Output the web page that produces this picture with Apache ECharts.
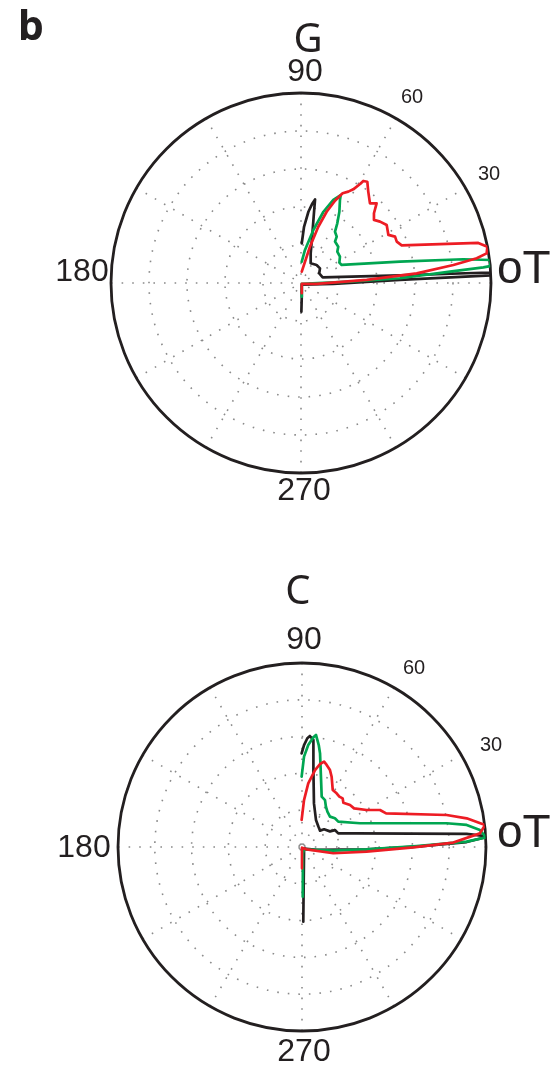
<!DOCTYPE html>
<html>
<head>
<meta charset="utf-8">
<script src="https://cdn.jsdelivr.net/npm/echarts@6/dist/echarts.min.js"></script>
<style>
  html, body { margin: 0; padding: 0; background: #ffffff; }
  #chart { width: 559px; height: 1065px; }
</style>
</head>
<body>
<div id="chart"></div>
<script>
// Trajectories given as (x, y) components, normalised so the outer circle is radius 1.
// Panel G
const gBlack = [
  [0.004,0.209],[0.016,0.296],[0.039,0.375],[0.060,0.419],[0.074,0.440],[0.068,0.367],
  [0.060,0.261],[0.051,0.156],[0.051,0.104],[0.082,0.095],[0.100,0.077],[0.096,0.051],
  [0.114,0.030],[0.521,0.040],[0.951,0.054],[0.998,0.054],[0.998,0.040],[0.521,0.016],
  [0.170,-0.005],[0.004,-0.009],[0.004,-0.072],[0.002,-0.151]
];
const gGreen = [
  [0.004,-0.072],[0.004,-0.005],[0.258,0.007],[0.521,0.025],[0.784,0.060],[0.960,0.082],
  [0.995,0.089],[0.998,0.121],[0.854,0.125],[0.521,0.112],[0.214,0.095],[0.202,0.107],
  [0.205,0.139],[0.191,0.165],[0.196,0.191],[0.179,0.218],[0.188,0.244],[0.179,0.270],
  [0.191,0.314],[0.202,0.375],[0.205,0.437],[0.209,0.463],[0.170,0.437],[0.118,0.375],
  [0.065,0.279],[0.021,0.174],[0.004,0.112]
];
const gRed = [
  [0.004,-0.054],[0.004,-0.005],[0.082,-0.005],[0.346,0.016],[0.609,0.051],[0.802,0.095],
  [0.925,0.130],[0.977,0.156],[0.981,0.191],[0.933,0.211],[0.530,0.198],[0.504,0.218],
  [0.495,0.244],[0.460,0.253],[0.451,0.305],[0.416,0.323],[0.384,0.332],[0.384,0.367],
  [0.398,0.419],[0.363,0.419],[0.354,0.481],[0.349,0.533],[0.328,0.537],[0.311,0.521],
  [0.275,0.493],[0.249,0.481],[0.219,0.472],[0.179,0.433],[0.135,0.375],[0.091,0.296],
  [0.047,0.191],[0.004,0.060]
];
// Panel C
const cBlack = [
  [-0.002,0.509],[0.011,0.554],[0.029,0.591],[0.043,0.603],[0.062,0.582],[0.062,0.418],
  [0.065,0.237],[0.076,0.147],[0.089,0.111],[0.098,0.089],[0.120,0.096],[0.152,0.085],
  [0.179,0.092],[0.197,0.074],[0.297,0.074],[0.306,0.065],[0.895,0.071],[0.986,0.060],
  [0.998,0.053],[0.895,0.027],[0.623,0.002],[0.351,-0.013],[0.080,-0.016],[0.011,-0.009],
  [0.011,-0.034],[0.009,-0.216],[0.007,-0.406]
];
const cGreen = [
  [-0.002,0.382],[0.011,0.491],[0.034,0.554],[0.062,0.596],[0.076,0.609],[0.091,0.554],
  [0.098,0.509],[0.103,0.382],[0.107,0.274],[0.125,0.255],[0.130,0.219],[0.138,0.192],
  [0.152,0.165],[0.179,0.156],[0.197,0.138],[0.315,0.129],[0.786,0.129],[0.895,0.120],
  [0.967,0.092],[1.000,0.053],[0.895,0.029],[0.623,0.005],[0.351,-0.013],[0.170,-0.020],
  [0.011,-0.013],[0.005,-0.034],[0.004,-0.270]
];
const cRed = [
  [-0.002,0.147],[0.011,0.255],[0.034,0.346],[0.071,0.418],[0.098,0.451],[0.120,0.464],
  [0.134,0.446],[0.152,0.418],[0.161,0.382],[0.167,0.310],[0.188,0.292],[0.203,0.274],
  [0.221,0.264],[0.225,0.241],[0.261,0.228],[0.283,0.210],[0.351,0.201],[0.424,0.201],
  [0.457,0.183],[0.786,0.174],[0.895,0.156],[0.995,0.120],[0.967,0.074],[0.822,0.024],
  [0.605,-0.002],[0.351,-0.025],[0.170,-0.034],[0.025,-0.013],[0.000,-0.004],[0.000,-0.116]
];

const panelLetter = 'b';
const panelTitles = ['G', 'C'];
const angleTickLabels = ['90', '60', '30', '180', '270'];
const zeroTickLabel = 'oT';

const COLORS = { black: '#231f20', green: '#00a651', red: '#ed1c24' };

// Convert (x, y) components to [radius, angle in degrees] for the polar system.
function toPolar(points) {
  return points.map(([x, y]) => {
    const r = Math.hypot(x, y);
    let a = Math.atan2(y, x) * 180 / Math.PI;
    if (a < 0) a += 360;
    return [r, a];
  });
}

const panels = [
  { center: [301, 283], radius: 190, traces: [gBlack, gGreen, gRed] },
  { center: [302, 847], radius: 184, traces: [cBlack, cGreen, cRed] }
];

// Sparse dotted rings and spokes
const gridLine = { color: '#8a8a8a', width: 1.6, type: [1.6, 9] };

const series = [];
panels.forEach((p, i) => {
  const colors = [COLORS.black, COLORS.green, COLORS.red];
  p.traces.forEach((t, k) => {
    series.push({
      type: 'line',
      coordinateSystem: 'polar',
      polarIndex: i,
      data: toPolar(t),
      showSymbol: false,
      symbol: 'none',
      smooth: false,
      silent: true,
      animation: false,
      lineStyle: { color: colors[k], width: 2.7, join: 'round', cap: 'round' },
      z: 3 + k
    });
  });
});

// Label placement for each panel
const labelLayout = [
  {
    title: [308, 41],
    ticks: [[305, 72, 32], [412, 97, 20], [489, 174, 20], [82, 272, 32], [304, 491, 32]],
    zero: [497, 270]
  },
  {
    title: [298, 593],
    ticks: [[304, 640, 32], [414, 668, 20], [491, 745, 20], [84, 848, 32], [304, 1052, 32]],
    zero: [497, 834]
  }
];

const graphics = [{
  type: 'text', x: 31, y: 28,
  style: { text: panelLetter, font: 'bold 41px "Noto Sans", sans-serif', fill: '#231f20',
           textAlign: 'center', textVerticalAlign: 'middle' }
}];
labelLayout.forEach((L, i) => {
  graphics.push({
    type: 'text', x: L.title[0], y: L.title[1],
    style: { text: panelTitles[i], font: '40px "Noto Sans", sans-serif', fill: '#231f20',
             textAlign: 'center', textVerticalAlign: 'middle' }
  });
  L.ticks.forEach((t, k) => {
    graphics.push({
      type: 'text', x: t[0], y: t[1],
      style: { text: angleTickLabels[k], font: t[2] + 'px "Liberation Sans", Arial, sans-serif',
               fill: '#231f20', textAlign: 'center', textVerticalAlign: 'middle' }
    });
  });
  graphics.push({
    type: 'text', x: L.zero[0], y: L.zero[1],
    style: { text: zeroTickLabel, font: '46px "Liberation Sans", Arial, sans-serif', fill: '#231f20',
             textAlign: 'left', textVerticalAlign: 'middle' }
  });
});

const chart = echarts.init(document.getElementById('chart'), null, { renderer: 'canvas' });
chart.setOption({
  animation: false,
  backgroundColor: '#ffffff',
  polar: panels.map(p => ({ center: p.center, radius: p.radius })),
  angleAxis: panels.map((p, i) => ({
    polarIndex: i,
    type: 'value',
    min: 0, max: 360, interval: 30,
    startAngle: 0,
    clockwise: false,
    axisLine: { show: true, lineStyle: { color: '#231f20', width: 2.8 } },
    axisTick: { show: false },
    axisLabel: { show: false },
    splitLine: { show: true, lineStyle: gridLine },
    z: 1
  })),
  radiusAxis: panels.map((p, i) => ({
    polarIndex: i,
    type: 'value',
    min: 0, max: 1, interval: 0.2,
    axisLine: { show: false },
    axisTick: { show: false },
    axisLabel: { show: false },
    splitLine: { show: true, lineStyle: gridLine },
    z: 1
  })),
  series: series,
  graphic: graphics
});
</script>
</body>
</html>
